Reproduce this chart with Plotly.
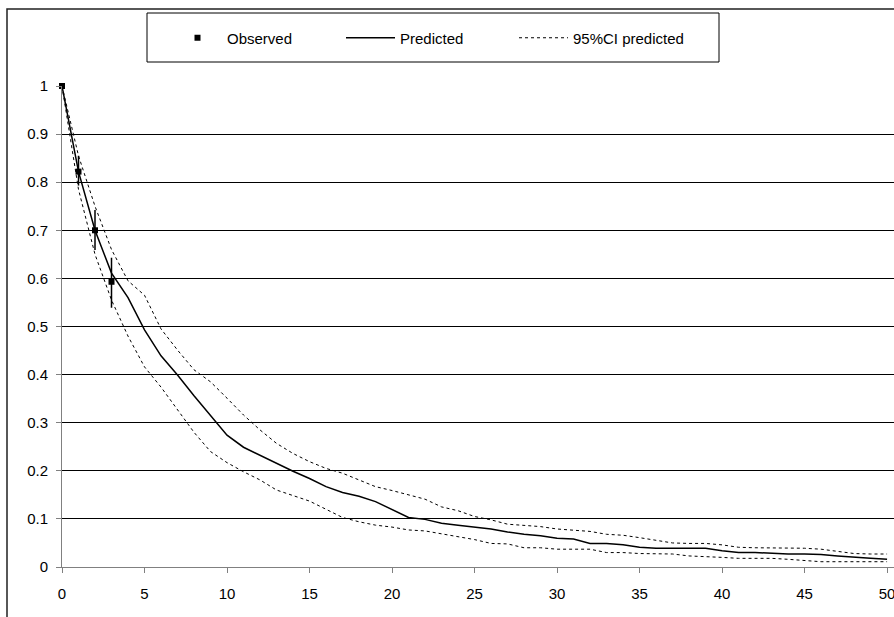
import plotly.graph_objects as go

# ---------------- data ----------------
time = list(range(0, 51))

predicted = [1.000, 0.822, 0.700, 0.611, 0.560, 0.493, 0.439, 0.399, 0.356, 0.316,
             0.274, 0.249, 0.232, 0.216, 0.199, 0.184, 0.167, 0.155, 0.147, 0.136,
             0.120, 0.103, 0.099, 0.091, 0.087, 0.083, 0.079, 0.073, 0.068, 0.065,
             0.060, 0.058, 0.049, 0.049, 0.046, 0.041, 0.039, 0.039, 0.039, 0.039,
             0.034, 0.030, 0.030, 0.028, 0.027, 0.027, 0.026, 0.023, 0.020, 0.018,
             0.016]

ci_upper = [1.000, 0.855, 0.750, 0.660, 0.595, 0.565, 0.495, 0.451, 0.410, 0.385,
            0.351, 0.316, 0.285, 0.257, 0.236, 0.219, 0.205, 0.195, 0.181, 0.167,
            0.159, 0.150, 0.141, 0.125, 0.117, 0.105, 0.098, 0.089, 0.087, 0.084,
            0.079, 0.077, 0.074, 0.068, 0.066, 0.061, 0.056, 0.050, 0.049, 0.049,
            0.046, 0.041, 0.040, 0.040, 0.039, 0.039, 0.037, 0.032, 0.028, 0.027,
            0.027]

ci_lower = [1.000, 0.785, 0.650, 0.555, 0.480, 0.416, 0.374, 0.327, 0.280, 0.240,
            0.217, 0.198, 0.181, 0.160, 0.148, 0.137, 0.120, 0.103, 0.094, 0.087,
            0.083, 0.077, 0.075, 0.069, 0.063, 0.057, 0.049, 0.048, 0.040, 0.040,
            0.037, 0.037, 0.037, 0.030, 0.030, 0.028, 0.027, 0.027, 0.023, 0.022,
            0.020, 0.018, 0.018, 0.018, 0.016, 0.013, 0.011, 0.011, 0.011, 0.011,
            0.011]

obs_time = [0, 1, 2, 3]
observed = [1.000, 0.822, 0.700, 0.593]
obs_err_up = [0.0, 0.033, 0.042, 0.050]
obs_err_down = [0.0, 0.029, 0.041, 0.054]

x_ticks = [0, 5, 10, 15, 20, 25, 30, 35, 40, 45, 50]
y_ticks = [0, 0.1, 0.2, 0.3, 0.4, 0.5, 0.6, 0.7, 0.8, 0.9, 1]
y_tick_labels = ["0", "0.1", "0.2", "0.3", "0.4", "0.5", "0.6", "0.7", "0.8", "0.9", "1"]

FONT = "Liberation Sans, Arial, sans-serif"

fig = go.Figure()

fig.add_trace(go.Scatter(
    x=obs_time, y=observed, mode="markers", name="Observed",
    marker=dict(symbol="square", size=6, color="black"),
    error_y=dict(type="data", array=obs_err_up, arrayminus=obs_err_down,
                 color="black", thickness=1.5, width=0),
    cliponaxis=False,
))
fig.add_trace(go.Scatter(
    x=time, y=predicted, mode="lines", name="Predicted",
    line=dict(color="black", width=1.5),
))
fig.add_trace(go.Scatter(
    x=time, y=ci_upper, mode="lines", name="95%CI predicted",
    legendgroup="ci",
    line=dict(color="black", width=1, dash="3px,3px"),
))
fig.add_trace(go.Scatter(
    x=time, y=ci_lower, mode="lines", name="95%CI predicted",
    legendgroup="ci", showlegend=False,
    line=dict(color="black", width=1, dash="3px,3px"),
))

L, T, B = 62, 86, 50
W, H = 894, 617
pw = W - L
ph = H - T - B


def px_x(p):
    return (p - L) / pw


def px_y(p):
    return (H - B - p) / ph


fig.update_layout(
    width=W, height=H,
    margin=dict(l=L, r=0, t=T, b=B, autoexpand=False),
    paper_bgcolor="white", plot_bgcolor="white",
    font=dict(family=FONT, size=15, color="black"),
    showlegend=True,
    legend=dict(
        orientation="h",
        x=px_x(168), xanchor="left",
        y=px_y(38), yanchor="middle",
        bgcolor="rgba(0,0,0,0)", borderwidth=0,
        itemwidth=49,
        entrywidth=109, entrywidthmode="pixels",
        font=dict(family=FONT, size=15, color="black"),
        traceorder="normal",
    ),
    xaxis=dict(
        range=[0, 50.42], tickvals=x_ticks, ticktext=[str(v) for v in x_ticks],
        showgrid=False, zeroline=False,
        showline=True, linecolor="#808080", linewidth=1,
        ticks="outside", ticklen=5, tickcolor="#808080", tickwidth=1,
        ticklabelstandoff=8, ticklabeloverflow="allow",
        tickfont=dict(family=FONT, size=15, color="black"),
    ),
    yaxis=dict(
        range=[0, 1], tickvals=y_ticks, ticktext=y_tick_labels,
        showgrid=True, gridcolor="black", gridwidth=1, zeroline=False,
        showline=True, linecolor="#808080", linewidth=1,
        ticks="outside", ticklen=5, tickcolor="#808080", tickwidth=1,
        ticklabelstandoff=5,
        tickfont=dict(family=FONT, size=15, color="black"),
    ),
    shapes=[
        # outer chart frame
        dict(type="rect", xref="paper", yref="paper",
             x0=px_x(7), x1=px_x(900), y0=px_y(630), y1=px_y(9),
             line=dict(color="#202020", width=1.5), fillcolor="rgba(0,0,0,0)",
             layer="below"),
        # legend box
        dict(type="rect", xref="paper", yref="paper",
             x0=px_x(147), x1=px_x(719), y0=px_y(62), y1=px_y(13),
             line=dict(color="black", width=1), fillcolor="rgba(0,0,0,0)"),
    ],
)

fig.write_html("out.html")
